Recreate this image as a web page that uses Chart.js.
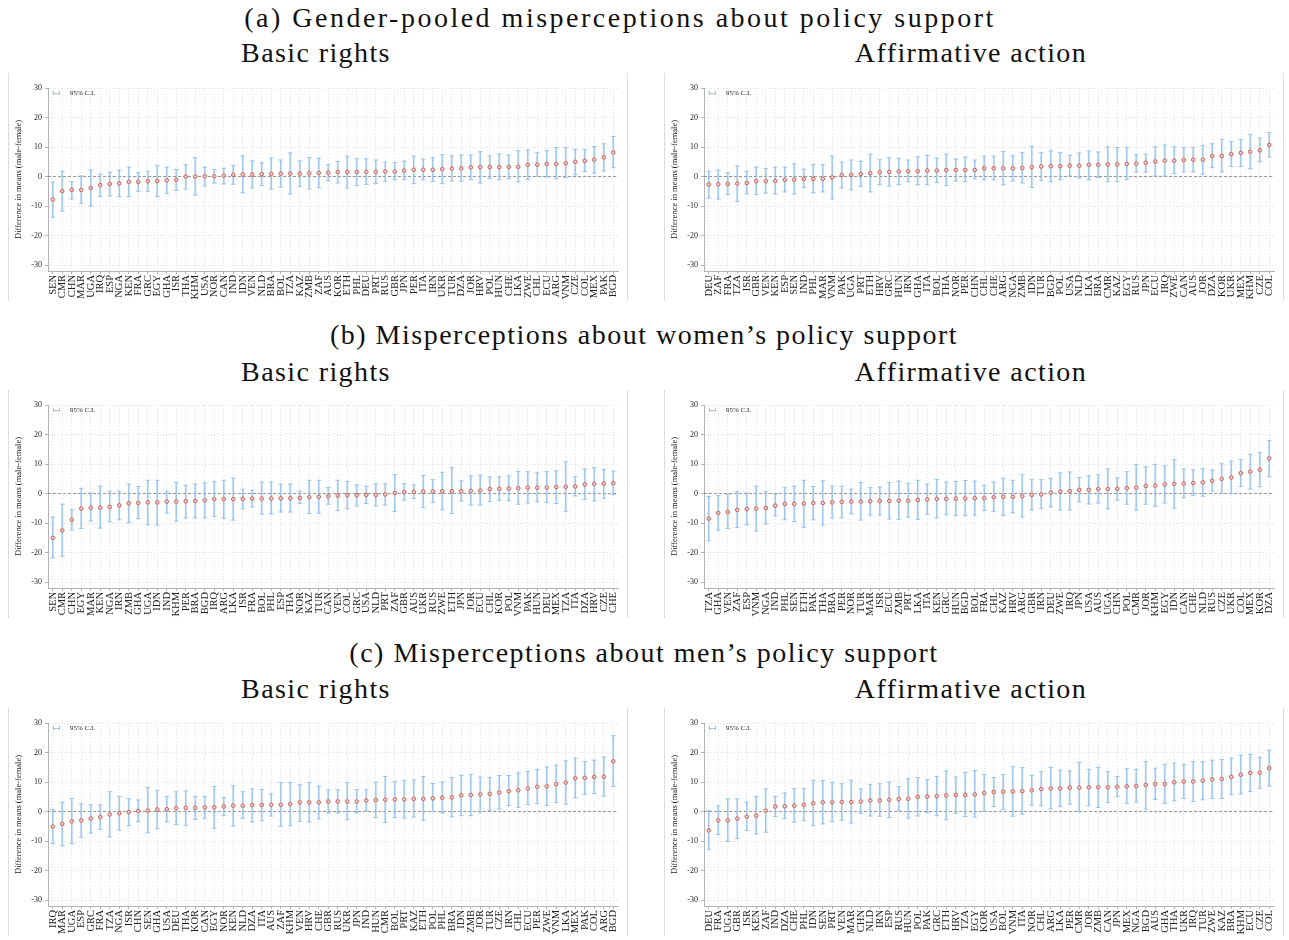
<!DOCTYPE html>
<html>
<head>
<meta charset="utf-8">
<script src="https://cdn.jsdelivr.net/npm/chart.js@4/dist/chart.umd.min.js"></script>
<style>
  body { margin: 0; background: #fff; width: 1289px; height: 940px; position: relative; overflow: hidden;
         font-family: 'Liberation Serif', serif; color: #111; }
  .head { position: absolute; font-size: 28px; line-height: 28px; letter-spacing: 1.5px; white-space: nowrap;
          transform: translateX(-50%); }
  .wide { letter-spacing: 2.5px; }
  .sub { letter-spacing: 1.4px; }
  .frame { position: absolute; border-left: 1px solid #dcdcdc; border-right: 1px solid #dcdcdc; box-sizing: border-box; }
  canvas { position: absolute; }
  .key { position: absolute; font-size: 7px; line-height: 8px; color: #222; white-space: nowrap; }
  .key i { position: absolute; left: -17px; top: 3.5px; width: 7px; height: 0; border-top: 1px solid #9cc6ea; }
  .key i::before, .key i::after { content: ''; position: absolute; top: -2.5px; width: 0; height: 4px; border-left: 1px solid #9cc6ea; }
  .key i::before { left: 0; } .key i::after { right: 0; }
</style>
</head>
<body>

<div class="head wide" style="left:620px;top:3.5px">(a) Gender-pooled misperceptions about policy support</div>
<div class="head sub" style="left:316px;top:38.5px">Basic rights</div>
<div class="head sub" style="left:971px;top:38.5px">Affirmative action</div>

<div class="head" style="left:644px;top:320.5px">(b) Misperceptions about women’s policy support</div>
<div class="head sub" style="left:316px;top:357.5px">Basic rights</div>
<div class="head sub" style="left:971px;top:357.5px">Affirmative action</div>

<div class="head" style="left:644px;top:638.5px">(c) Misperceptions about men’s policy support</div>
<div class="head sub" style="left:316px;top:674.5px">Basic rights</div>
<div class="head sub" style="left:971px;top:674.5px">Affirmative action</div>

<script>
// ---- (a) gender-pooled, basic rights ----
const pooledRightsCountries = ['SEN','CMR','CHN','MAR','UGA','IRQ','ESP','NGA','KEN','FRA','GRC','EGY','GHA','ISR','THA','KHM','USA','NOR','CAN','IND','IDN','VEN','NLD','BRA','BOL','TZA','KAZ','ZMB','ZAF','AUS','KOR','ETH','PHL','DEU','PRT','RUS','GBR','JPN','PER','ITA','IRN','UKR','TUR','DZA','JOR','HRV','POL','HUN','CHE','LKA','ZWE','CHL','ECU','ARG','VNM','CZE','COL','MEX','PAK','BGD'];
const pooledRightsEst  = [-7.8,-4.9,-4.5,-4.5,-3.9,-2.9,-2.5,-2.3,-1.8,-1.8,-1.6,-1.5,-1.3,-1.1,0.0,0.0,0.1,0.1,0.3,0.6,0.7,0.7,0.8,0.9,1.0,1.0,1.0,1.1,1.2,1.3,1.5,1.5,1.5,1.6,1.6,1.7,1.7,2.0,2.3,2.3,2.3,2.5,2.7,2.8,3.1,3.2,3.2,3.2,3.3,3.3,4.0,4.0,4.3,4.3,4.5,5.0,5.3,5.7,6.5,8.2];
const pooledRightsLow  = [-13.8,-11.7,-7.6,-9.2,-10.0,-6.8,-6.6,-6.8,-6.8,-5.0,-5.0,-6.8,-5.8,-4.7,-4.2,-6.3,-3.2,-2.2,-2.5,-2.6,-5.5,-3.9,-3.0,-4.3,-3.6,-5.9,-3.3,-4.2,-3.8,-1.3,-2.2,-3.9,-3.0,-2.7,-2.3,-1.6,-1.1,-1.0,-2.4,-1.1,-1.7,-2.4,-1.5,-1.5,-1.0,-2.2,-0.7,-1.1,-0.7,-1.8,-1.0,0.0,-0.1,-0.8,-0.3,0.6,1.7,1.1,1.9,3.0];
const pooledRightsHigh = [-1.9,1.8,-1.7,0.2,2.2,0.8,1.5,2.2,3.2,1.3,1.8,3.8,3.2,2.4,4.0,6.4,3.2,2.4,2.8,3.8,7.0,5.3,4.7,6.3,5.6,8.0,5.3,6.4,6.1,4.0,5.1,6.9,6.0,6.0,5.6,4.9,4.7,5.2,6.9,5.9,6.4,7.4,7.0,7.3,7.3,8.4,7.0,7.7,7.3,8.8,9.0,8.1,8.8,9.8,9.8,9.2,9.1,10.2,11.1,13.6];

// ---- (a) gender-pooled, affirmative action ----
const pooledAffirmCountries = ['DEU','ZAF','FRA','TZA','ISR','GBR','VEN','KEN','ESP','SEN','IND','PHL','MAR','VNM','PAK','UGA','PRT','ETH','HRV','GRC','HUN','IRN','GHA','ITA','BOL','THA','NOR','PER','CHN','CHL','CHE','ARG','NGA','ZMB','IDN','TUR','BGD','POL','USA','NLD','LKA','BRA','CMR','KAZ','EGY','RUS','JPN','ECU','IRQ','ZWE','CAN','AUS','JOR','DZA','KOR','UKR','MEX','KHM','CZE','COL'];
const pooledAffirmEst  = [-2.7,-2.6,-2.5,-2.4,-2.2,-1.6,-1.6,-1.5,-1.1,-1.0,-0.8,-0.8,-0.8,-0.3,0.5,0.6,0.9,1.1,1.4,1.6,1.7,1.8,1.8,2.0,2.0,2.2,2.2,2.2,2.2,2.8,2.8,2.8,2.8,2.9,3.2,3.4,3.5,3.5,3.7,3.7,4.0,4.0,4.1,4.1,4.3,4.4,4.7,5.1,5.4,5.4,5.6,5.7,5.7,6.9,7.0,7.6,8.0,8.4,8.9,10.7];
const pooledAffirmLow  = [-7.3,-7.6,-6.1,-8.4,-5.9,-6.1,-5.6,-5.9,-5.2,-5.9,-3.7,-5.5,-5.2,-7.6,-3.9,-4.5,-3.3,-5.2,-2.8,-3.2,-2.8,-1.8,-2.8,-2.8,-2.0,-3.1,-1.5,-1.7,-0.8,-1.1,-1.1,-2.8,-1.5,-2.2,-3.7,-1.4,-1.8,-1.1,0.2,-0.5,-1.1,-0.3,-1.8,-1.7,-1.0,1.5,1.5,0.2,0.2,1.0,1.6,1.6,0.8,3.0,1.6,3.4,3.4,2.6,5.0,6.6];
const pooledAffirmHigh = [1.8,2.2,1.3,3.6,1.8,3.2,2.7,3.2,3.2,4.3,2.5,4.1,4.0,6.9,4.9,5.6,5.2,7.6,5.7,6.4,6.2,5.6,6.7,7.2,6.2,7.6,5.9,6.6,5.6,6.9,6.9,8.5,7.0,8.1,10.2,8.1,8.7,8.1,7.2,8.0,8.7,8.3,10.1,9.8,9.8,7.4,7.6,10.1,10.7,10.1,9.8,9.8,10.6,11.1,12.6,11.9,12.6,14.2,13.1,14.9];

// ---- (b) women, basic rights ----
const womenRightsCountries = ['SEN','CMR','CHN','EGY','MAR','KEN','NGA','IRN','ZMB','GHA','UGA','IDN','IND','KHM','PER','BRA','BGD','IRQ','ARG','LKA','ISR','FRA','BOL','PHL','ESP','THA','NOR','KAZ','TUR','CAN','VEN','COL','GRC','USA','NLD','PRT','ZAF','GBR','AUS','UKR','RUS','ZWE','ETH','JPN','JOR','ECU','CHL','KOR','POL','VNM','PAK','HUN','DEU','MEX','TZA','ITA','DZA','HRV','CZE','CHE'];
const womenRightsEst  = [-15.0,-12.5,-8.9,-5.1,-4.8,-4.8,-4.5,-4.0,-3.3,-3.2,-3.0,-3.0,-2.7,-2.7,-2.6,-2.5,-2.3,-1.9,-1.9,-1.9,-1.8,-1.7,-1.7,-1.7,-1.6,-1.6,-1.5,-1.25,-1.1,-0.9,-0.7,-0.6,-0.6,-0.45,-0.45,-0.3,0.2,0.45,0.6,0.7,0.7,0.8,0.8,0.8,0.9,1.0,1.5,1.6,1.7,1.8,2.0,2.0,2.0,2.2,2.3,2.4,3.1,3.3,3.4,3.5];
const womenRightsLow  = [-21.8,-21.25,-12.3,-11.9,-9.3,-11.7,-9.5,-8.9,-9.9,-8.5,-10.6,-10.7,-6.6,-9.3,-8.3,-8.3,-8.2,-7.8,-8.4,-9.0,-5.2,-4.5,-7.0,-6.9,-6.25,-6.25,-3.4,-6.8,-6.7,-3.6,-5.8,-5.2,-4.2,-3.4,-4.2,-3.9,-6.1,-2.2,-1.7,-4.8,-3.1,-5.5,-6.8,-2.5,-3.9,-3.9,-2.7,-2.3,-2.4,-3.6,-3.2,-2.8,-3.0,-3.4,-6.0,-0.8,-2.0,-2.5,-1.6,-0.3];
const womenRightsHigh = [-8.0,-3.6,-5.5,1.8,0.2,2.5,0.8,0.8,3.2,2.4,4.5,4.5,0.8,3.75,2.8,3.2,3.6,4.0,4.5,5.2,1.5,1.1,3.9,3.9,3.2,3.2,0.8,4.5,4.5,2.0,4.5,4.1,2.95,2.5,3.3,3.3,6.4,3.3,2.95,6.1,4.7,7.2,8.75,4.3,6.0,6.25,5.7,5.7,6.0,7.5,7.4,7.0,7.4,7.7,10.8,5.8,8.3,8.75,8.1,7.6];

// ---- (b) women, affirmative action ----
const womenAffirmCountries = ['TZA','GHA','VEN','ZAF','ESP','VNM','NGA','IND','PHL','SEN','ETH','PAK','THA','BRA','PER','NOR','TUR','MAR','ISR','ECU','ZMB','PRT','LKA','ITA','KEN','GRC','HUN','BGD','BOL','FRA','CHL','KAZ','HRV','ARG','GBR','IRN','DEU','ZWE','IRQ','JPN','USA','AUS','UGA','CHN','POL','CMR','JOR','KHM','EGY','IDN','CAN','CHE','NLD','RUS','CZE','UKR','COL','MEX','KOR','DZA'];
const womenAffirmEst  = [-8.5,-6.6,-6.25,-5.5,-5.2,-5.1,-4.9,-4.1,-3.5,-3.5,-3.4,-3.2,-3.2,-3.0,-2.8,-2.7,-2.7,-2.6,-2.5,-2.5,-2.4,-2.4,-2.2,-2.0,-1.8,-1.8,-1.7,-1.7,-1.6,-1.6,-1.25,-1.1,-1.1,-0.9,-0.45,-0.3,0.3,0.7,0.8,1.25,1.25,1.5,1.5,1.6,1.8,2.0,2.6,2.7,3.1,3.3,3.4,3.6,3.75,4.3,5.0,5.45,6.9,7.4,8.1,11.9];
const womenAffirmLow  = [-16.0,-12.4,-11.9,-11.5,-10.6,-12.7,-10.3,-7.6,-8.9,-9.5,-11.4,-8.9,-10.7,-8.3,-8.2,-6.9,-9.0,-7.3,-7.3,-8.6,-8.75,-8.0,-8.75,-7.0,-8.2,-7.2,-7.5,-7.5,-7.3,-5.8,-6.0,-7.4,-6.5,-8.0,-5.6,-5.1,-4.5,-5.6,-5.6,-2.8,-3.5,-3.2,-5.2,-2.2,-3.6,-5.6,-3.6,-4.3,-3.2,-5.0,-1.4,-0.7,-0.9,0.8,0.1,0.0,2.4,1.5,2.3,5.7];
const womenAffirmHigh = [-1.0,-0.7,-0.3,0.7,0.2,2.5,0.7,-0.2,2.0,2.5,4.5,2.4,4.3,2.5,2.5,1.5,3.75,2.0,2.2,3.75,4.2,3.5,4.5,3.2,4.8,3.9,4.1,4.4,4.2,2.8,3.9,5.2,4.5,6.4,4.7,4.7,5.1,7.0,7.3,5.45,6.0,6.4,8.4,5.3,7.4,9.8,9.1,9.9,9.4,11.5,8.3,8.0,8.4,8.0,10.1,11.0,11.5,13.3,13.9,18.0];

// ---- (c) men, basic rights ----
const menRightsCountries = ['IRQ','MAR','UGA','ESP','GRC','FRA','TZA','NGA','ISR','CHN','SEN','GHA','USA','DEU','THA','KOR','CAN','EGY','NOR','KEN','NLD','DZA','ITA','AUS','ZAF','KHM','VEN','HRV','CHE','GBR','RUS','UKR','JPN','IND','HUN','CMR','BOL','PRT','KAZ','ETH','POL','PHL','BRA','IDN','ZMB','JOR','TUR','CZE','IRN','CHL','ECU','PER','ZWE','VNM','LKA','MEX','PAK','COL','ARG','BGD'];
const menRightsEst  = [-5.1,-4.2,-3.3,-3.0,-2.4,-1.9,-1.0,-0.6,-0.2,0.2,0.3,0.7,0.8,1.1,1.25,1.25,1.4,1.4,1.7,2.0,2.0,2.2,2.2,2.3,2.3,2.5,3.1,3.1,3.1,3.4,3.4,3.4,3.4,3.75,3.9,4.0,4.1,4.1,4.3,4.3,4.5,4.7,4.8,5.5,5.6,5.8,6.0,6.5,6.9,7.2,7.8,8.4,8.5,9.3,9.8,11.25,11.4,11.7,11.8,17.0];
const menRightsLow  = [-10.9,-11.6,-10.9,-8.75,-7.3,-6.0,-8.6,-6.25,-4.8,-3.4,-7.2,-5.8,-3.4,-4.4,-4.7,-2.7,-2.3,-5.7,-1.4,-4.9,-2.3,-3.5,-3.1,-1.5,-5.0,-4.8,-3.3,-3.5,-2.5,-0.45,-0.45,-2.8,-0.45,0.2,-2.0,-3.75,-2.0,-2.2,-1.9,-3.0,0.0,-0.45,-1.8,-1.4,-1.4,-0.2,0.3,0.9,2.0,1.4,2.4,2.7,2.0,3.1,2.5,4.7,5.9,6.1,5.2,8.5];
const menRightsHigh = [0.7,3.1,4.4,2.7,2.3,2.3,6.7,5.1,4.3,3.9,8.1,7.2,5.1,6.7,7.0,5.1,5.1,8.5,4.8,8.75,6.7,7.7,7.5,6.0,9.8,9.9,9.1,9.8,8.6,7.4,7.4,9.8,7.4,7.4,9.9,11.9,10.2,10.6,10.7,11.9,9.5,10.0,11.6,12.3,12.6,11.7,11.6,12.2,12.2,13.1,13.6,14.3,15.1,15.7,17.2,18.1,17.0,17.4,18.5,25.7];

// ---- (c) men, affirmative action ----
const menAffirmCountries = ['DEU','FRA','UGA','GBR','ISR','KEN','ZAF','IND','DZA','CHE','PHL','IDN','SEN','PRT','VEN','MAR','CHN','NLD','IRN','ESP','RUS','HUN','POL','PAK','GRC','ETH','HRV','TZA','EGY','KOR','USA','BOL','VNM','ITA','NOR','CHL','ARG','LKA','PER','CMR','JOR','ZMB','CAN','JPN','MEX','NGA','BGD','AUS','GHA','THA','UKR','IRQ','TUR','ZWE','KAZ','BRA','KHM','ECU','CZE','COL'];
const menAffirmEst  = [-6.4,-3.0,-3.0,-2.4,-1.7,-1.4,0.3,1.7,1.8,2.0,2.3,2.8,3.1,3.1,3.2,3.2,3.4,3.75,3.75,4.0,4.2,4.3,5.0,5.1,5.2,5.45,5.6,5.6,5.8,6.25,6.6,6.7,6.8,6.9,7.2,7.6,7.8,7.8,8.1,8.1,8.2,8.2,8.2,8.4,8.5,8.6,9.0,9.3,9.3,9.9,10.2,10.2,10.5,10.9,11.0,11.7,12.5,13.1,13.2,14.7];
const menAffirmLow  = [-12.8,-7.8,-10.1,-9.2,-6.4,-7.6,-7.0,-1.7,-2.4,-3.6,-3.1,-4.8,-4.2,-3.4,-3.0,-3.9,-0.6,-1.5,-1.6,-2.0,0.3,-2.2,-1.5,-0.3,-1.4,-2.8,-0.6,-1.7,-1.9,0.1,1.7,0.7,-1.6,-0.9,2.2,2.0,0.9,1.8,2.5,-0.1,2.0,1.4,3.1,5.1,2.8,3.2,0.8,4.1,2.8,3.6,4.4,3.4,4.0,4.4,4.4,5.7,6.0,6.8,7.9,8.6];
const menAffirmHigh = [0.3,1.9,4.3,4.3,3.1,5.1,7.7,5.1,6.25,7.8,7.8,10.6,10.5,9.8,9.4,10.6,7.7,9.2,9.4,10.0,8.4,11.1,11.5,10.8,11.9,13.75,11.7,13.3,13.9,12.6,11.5,12.6,15.2,14.9,12.3,13.5,15.0,14.0,13.75,16.6,14.3,15.0,13.5,11.9,14.5,14.3,17.0,14.7,16.0,16.4,16.0,17.0,16.9,17.4,17.7,18.1,19.1,19.4,18.4,20.8];

const yTicks = [-30, -20, -10, 0, 10, 20, 30];
const yTitle = 'Difference in means (male-female)';
const ciLabel = '95% C.I.';

const SERIF = "'Liberation Serif', 'Times New Roman', serif";
const CI_BLUE = 'rgba(138,188,232,0.78)';
const EST_RED = '#cd5a52';
const EST_FILL = '#ead0cf';
const GRID = '#e1e1e1';
const AXIS = '#b4b4b4';

Chart.defaults.font.family = SERIF;
Chart.defaults.color = '#222';

// dashed reference line at zero, placed with the y scale
const zeroLine = {
  id: 'zeroLine',
  beforeDatasetsDraw(chart) {
    const { ctx, chartArea, scales } = chart;
    const py = scales.y.getPixelForValue(0);
    ctx.save();
    ctx.strokeStyle = '#8a8a8a';
    ctx.lineWidth = 0.9;
    ctx.setLineDash([3, 2]);
    ctx.beginPath();
    ctx.moveTo(chartArea.left, py);
    ctx.lineTo(chartArea.right, py);
    ctx.stroke();
    ctx.restore();
  }
};

const W = 622, H = 229;
const panels = [
  { left: 7,   top: 73,  labels: pooledRightsCountries, est: pooledRightsEst, low: pooledRightsLow, high: pooledRightsHigh },
  { left: 663, top: 73,  labels: pooledAffirmCountries, est: pooledAffirmEst, low: pooledAffirmLow, high: pooledAffirmHigh },
  { left: 7,   top: 390, labels: womenRightsCountries,  est: womenRightsEst,  low: womenRightsLow,  high: womenRightsHigh },
  { left: 663, top: 390, labels: womenAffirmCountries,  est: womenAffirmEst,  low: womenAffirmLow,  high: womenAffirmHigh },
  { left: 7,   top: 708, labels: menRightsCountries,    est: menRightsEst,    low: menRightsLow,    high: menRightsHigh },
  { left: 663, top: 708, labels: menAffirmCountries,    est: menAffirmEst,    low: menAffirmLow,    high: menAffirmHigh }
];

panels.forEach(p => {
  const frame = document.createElement('div');
  frame.className = 'frame';
  frame.style.left = (p.left + 1) + 'px';
  frame.style.top = p.top + 'px';
  frame.style.width = (W - 2) + 'px';
  frame.style.height = (H - 1) + 'px';
  document.body.appendChild(frame);

  const canvas = document.createElement('canvas');
  canvas.width = W; canvas.height = H;
  canvas.style.left = p.left + 'px';
  canvas.style.top = p.top + 'px';
  document.body.appendChild(canvas);

  const key = document.createElement('div');
  key.className = 'key';
  key.style.left = (p.left + 63) + 'px';
  key.style.top = (p.top + 16) + 'px';
  key.innerHTML = '<i></i>' + ciLabel;
  document.body.appendChild(key);

  new Chart(canvas, {
    type: 'bar',
    data: {
      labels: p.labels,
      datasets: [
        { type: 'line', label: 'estimate', data: p.est, showLine: false,
          pointStyle: 'circle', pointRadius: 1.8, pointBorderWidth: 1,
          pointBorderColor: EST_RED, pointBackgroundColor: EST_FILL, order: 0 },
        { type: 'line', label: 'lower', data: p.low, showLine: false,
          pointStyle: 'line', pointRadius: 2.4, pointBorderWidth: 1,
          pointBorderColor: CI_BLUE, order: 1 },
        { type: 'line', label: 'upper', data: p.high, showLine: false,
          pointStyle: 'line', pointRadius: 2.4, pointBorderWidth: 1,
          pointBorderColor: CI_BLUE, order: 1 },
        { type: 'bar', label: ciLabel, data: p.low.map((v, i) => [v, p.high[i]]),
          backgroundColor: CI_BLUE, barThickness: 1.1, order: 2 }
      ]
    },
    options: {
      responsive: false,
      animation: false,
      layout: { padding: { top: 15, right: 11, bottom: 0, left: 0 } },
      plugins: { legend: { display: false }, tooltip: { enabled: false } },
      scales: {
        x: {
          offset: true,
          grid: { offset: false, color: GRID, lineWidth: 1, drawTicks: true, tickLength: 3,
                  tickColor: AXIS, tickBorderDash: [] },
          border: { color: AXIS, width: 1, dash: [1, 2] },
          ticks: { autoSkip: false, minRotation: 90, maxRotation: 90, padding: 1,
                   font: { size: 10.5 }, color: '#222' },
          afterFit: s => { s.height = 31; }
        },
        y: {
          min: -32, max: 30, bounds: 'data',
          afterBuildTicks: s => { s.ticks = yTicks.map(v => ({ value: v })); },
          ticks: { padding: 3, font: { size: 8 }, color: '#222' },
          grid: { color: GRID, lineWidth: 1, tickLength: 3, tickColor: AXIS, tickBorderDash: [] },
          border: { color: AXIS, width: 1, dash: [1, 2] },
          title: { display: true, text: yTitle, font: { size: 8.5 }, color: '#222',
                   padding: { top: 7, bottom: 0 } },
          afterFit: s => { s.width = 41; }
        }
      }
    },
    plugins: [zeroLine]
  });
});
</script>
</body>
</html>
